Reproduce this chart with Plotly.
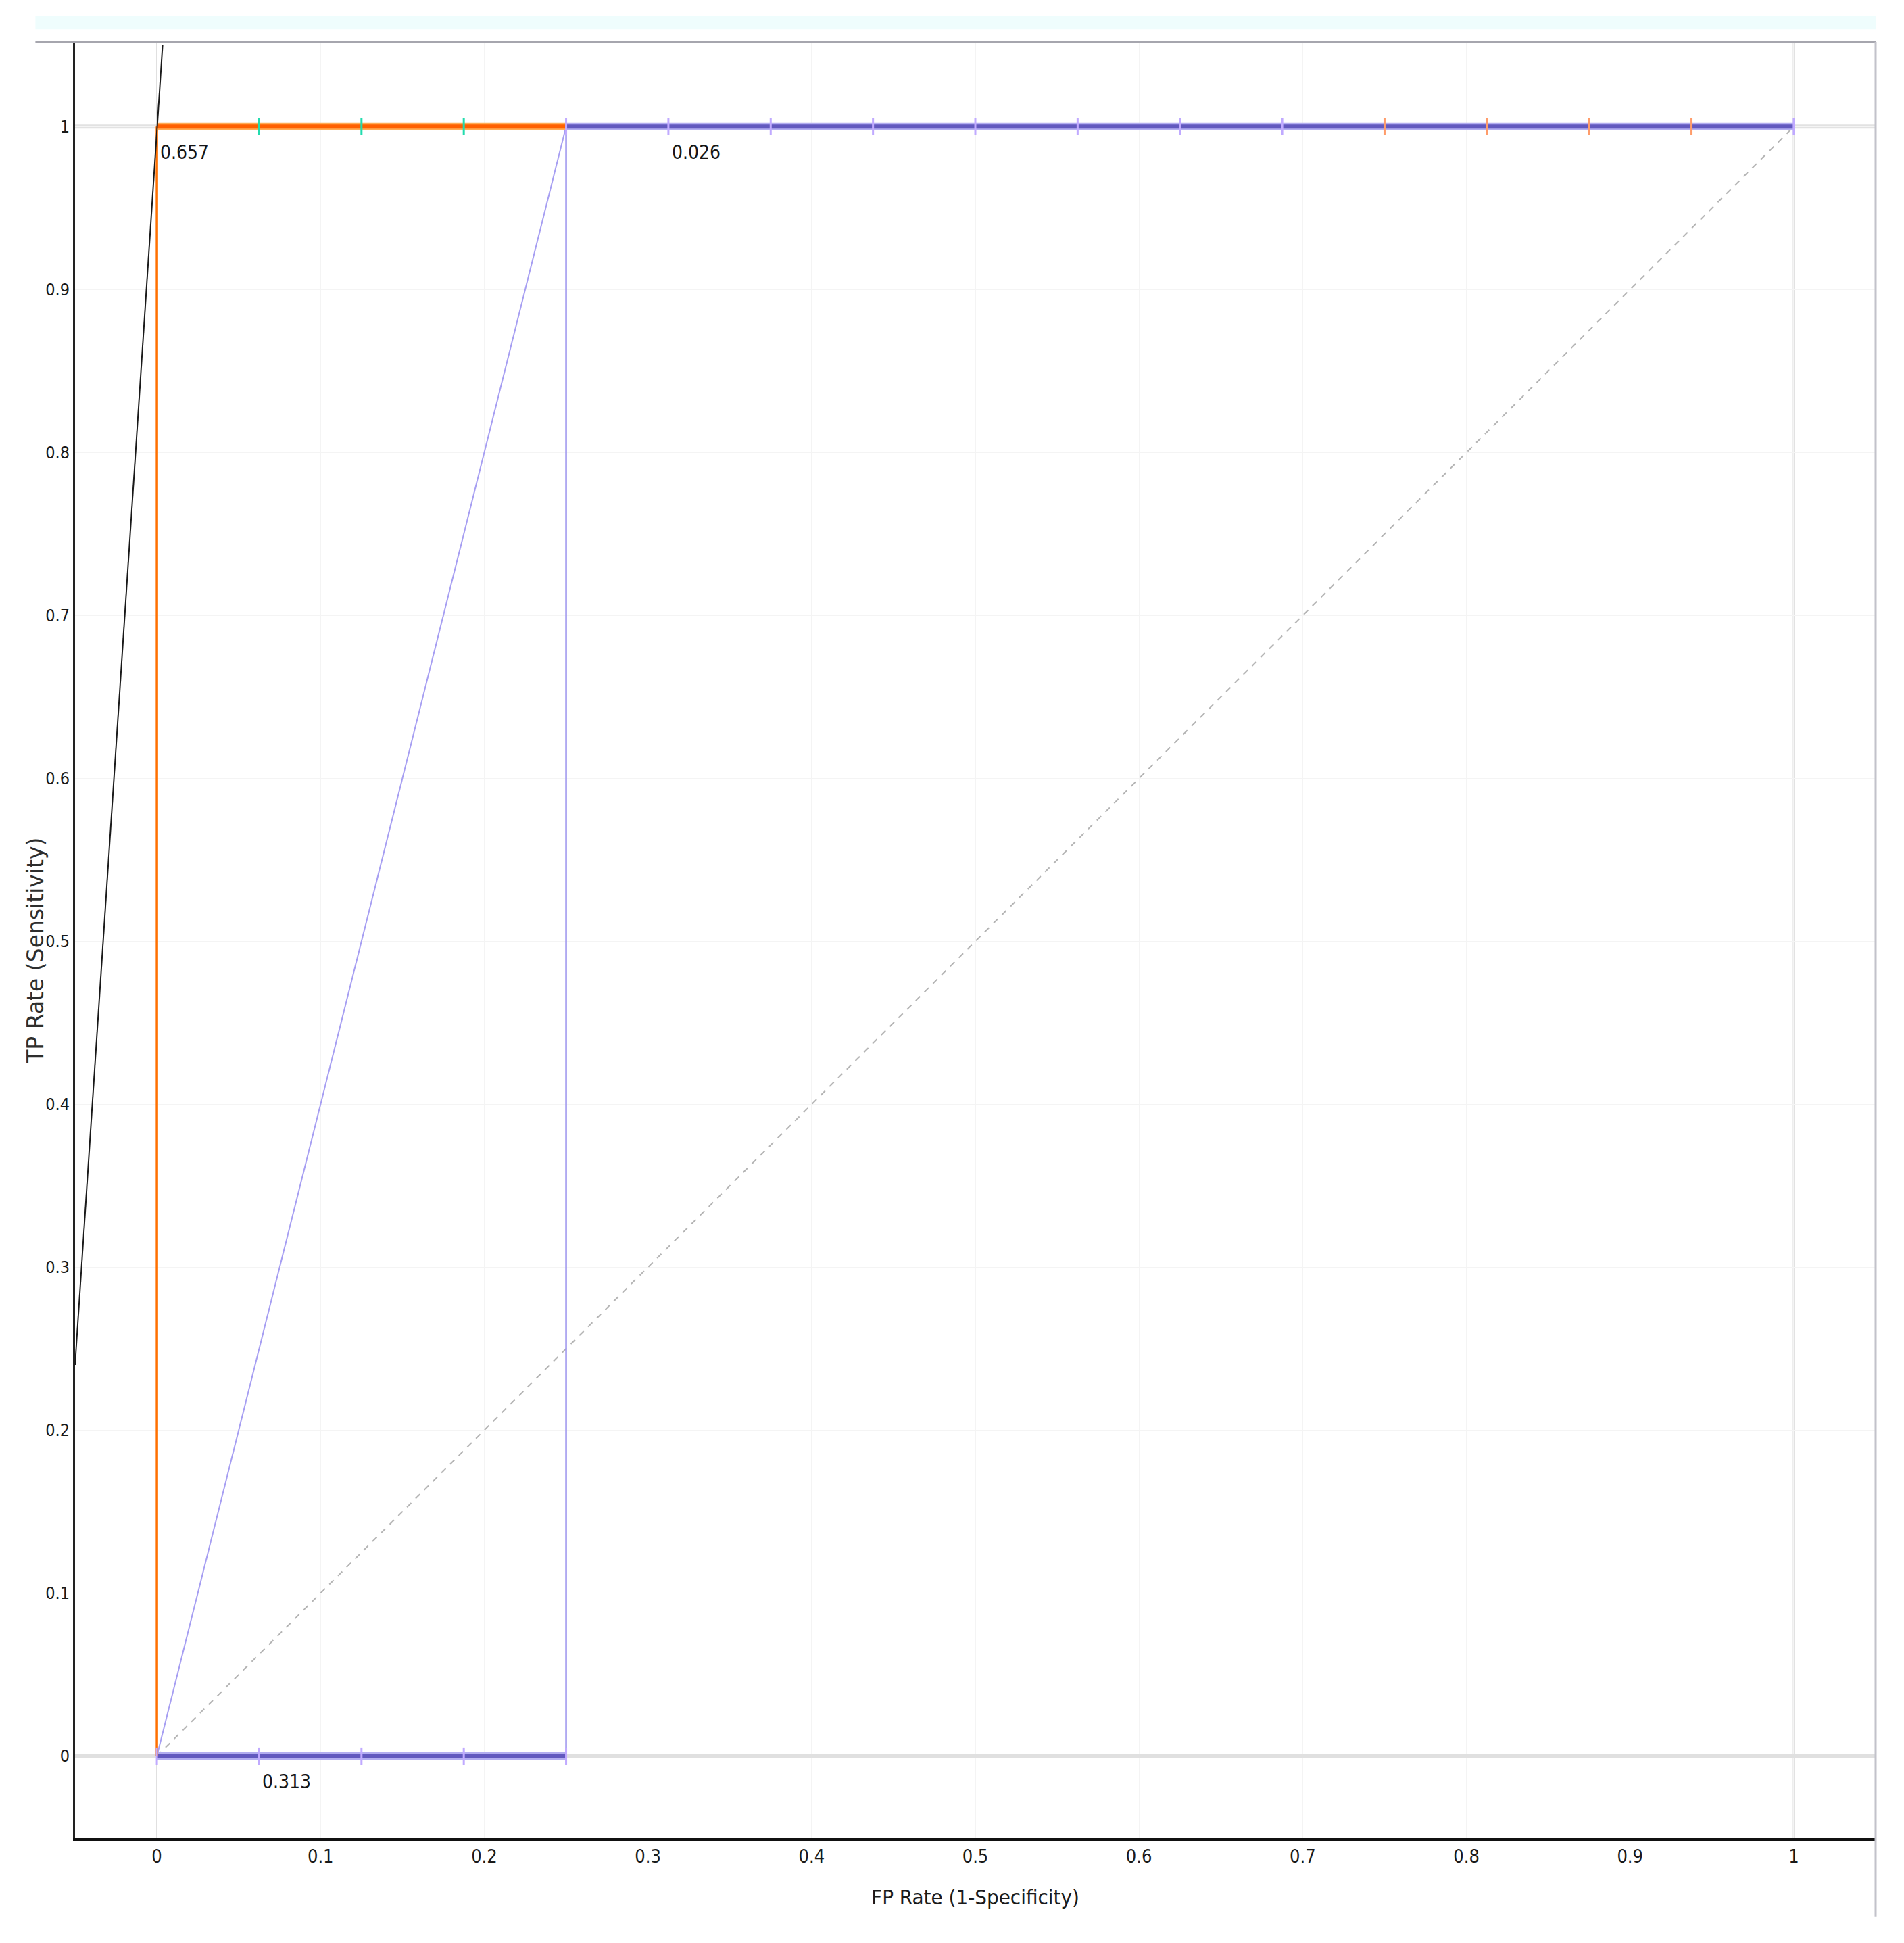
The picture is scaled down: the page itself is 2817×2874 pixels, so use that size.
import plotly.graph_objects as go

# ROC points
orange_fpr = [0, 0, 0.0625, 0.125, 0.1875, 0.25]
orange_tpr = [0, 1, 1, 1, 1, 1]

purple_fpr = [0, 0.0625, 0.125, 0.1875, 0.25, 0.25, 0.3125, 0.375, 0.4375, 0.5,
              0.5625, 0.625, 0.6875, 0.75, 0.8125, 0.875, 0.9375, 1]
purple_tpr = [0, 0, 0, 0, 0, 1, 1, 1, 1, 1, 1, 1, 1, 1, 1, 1, 1, 1]
purple_band = ["low"] * 13 + ["high"] * 4 + ["low"]

hull_fpr = [0, 0.25]
hull_tpr = [0, 1]

iso_fpr = [-0.05, 0.0035]
iso_tpr = [0.24, 1.05]

chance_fpr = [0, 1]
chance_tpr = [0, 1]

labels_x = [0, 0.3125, 0.0625]
labels_y = [1, 1, 0]
labels_text = ["0.657", "0.026", "0.313"]

TICK_FONT = "Liberation Sans Narrow, DejaVu Sans Condensed, Arial Narrow, sans-serif"


def split_segments(xs, ys):
    # horizontal pieces are drawn heavier than the rest, as in the original
    fx, fy, sx, sy = [], [], [], []
    for x0, x1, y0, y1 in zip(xs[:-1], xs[1:], ys[:-1], ys[1:]):
        if x0 == x1 and y0 == y1:
            continue
        if y0 == y1:
            fx += [x0, x1, None]
            fy += [y0, y1, None]
        else:
            sx += [x0, x1, None]
            sy += [y0, y1, None]
    return fx, fy, sx, sy


fig = go.Figure()

fig.add_hline(y=1, line=dict(color="#e2e2e2", width=6), layer="below")
fig.add_vline(x=1, line=dict(color="#e2e2e2", width=3), layer="below")

fig.add_trace(go.Scatter(x=chance_fpr, y=chance_tpr, mode="lines",
                         line=dict(color="#b4b4b4", width=2, dash="dash"),
                         hoverinfo="skip"))

fig.add_trace(go.Scatter(x=hull_fpr, y=hull_tpr, mode="lines",
                         line=dict(color="#a69ef2", width=2), hoverinfo="skip"))

pfx, pfy, psx, psy = split_segments(purple_fpr, purple_tpr)
fig.add_trace(go.Scatter(x=psx, y=psy, mode="lines",
                         line=dict(color="#9c94ee", width=2.5), hoverinfo="skip"))
fig.add_trace(go.Scatter(x=pfx, y=pfy, mode="lines",
                         line=dict(color="#b2adf0", width=11), hoverinfo="skip"))
fig.add_trace(go.Scatter(x=pfx, y=pfy, mode="lines",
                         line=dict(color="#6259bf", width=6), hoverinfo="skip"))

ofx, ofy, osx, osy = split_segments(orange_fpr, orange_tpr)
fig.add_trace(go.Scatter(x=osx, y=osy, mode="lines",
                         line=dict(color="#ff7000", width=3.5), hoverinfo="skip"))
fig.add_trace(go.Scatter(x=ofx, y=ofy, mode="lines",
                         line=dict(color="#ffac55", width=11), hoverinfo="skip"))
fig.add_trace(go.Scatter(x=ofx, y=ofy, mode="lines",
                         line=dict(color="#ff6000", width=6), hoverinfo="skip"))

band_colors = {"low": "#c0aaff", "high": "#ff9c6a"}
fig.add_trace(go.Scatter(x=purple_fpr, y=purple_tpr, mode="markers",
                         marker=dict(symbol="line-ns-open", size=18,
                                     color=[band_colors[b] for b in purple_band],
                                     line=dict(width=3)),
                         hoverinfo="skip"))
fig.add_trace(go.Scatter(x=orange_fpr[2:5], y=orange_tpr[2:5], mode="markers",
                         marker=dict(symbol="line-ns-open", size=18, color="#22dcae",
                                     line=dict(width=3)),
                         hoverinfo="skip"))

fig.add_trace(go.Scatter(x=iso_fpr, y=iso_tpr, mode="lines",
                         line=dict(color="#1a1a1a", width=2), hoverinfo="skip"))

for lx, ly, lt in zip(labels_x, labels_y, labels_text):
    fig.add_annotation(x=lx, y=ly, text=lt, showarrow=False,
                       xanchor="left", yanchor="top", xshift=3, yshift=-20,
                       font=dict(family=TICK_FONT, size=28, color="#151515"))

# y title placed by hand so it sits close to the tick labels
fig.add_annotation(x=-0.0218, y=0.494, xref="paper", yref="paper",
                   text="TP Rate (Sensitivity)", textangle=-90, showarrow=False,
                   xanchor="center", yanchor="middle",
                   font=dict(family="DejaVu Sans, Verdana, sans-serif", size=33,
                             color="#2e2e2e"))

# frame pieces outside the plot area
fig.add_shape(type="rect", xref="paper", yref="paper",
              x0=-0.022, x1=1.0, y0=1.0071, y1=1.0147,
              fillcolor="#effdfd", line=dict(width=0), layer="below")
fig.add_shape(type="line", xref="paper", yref="paper",
              x0=-0.022, x1=1.0, y0=1.0, y1=1.0,
              line=dict(color="#a6a6ae", width=4))
fig.add_shape(type="line", xref="paper", yref="paper",
              x0=1.0, x1=1.0, y0=1.0, y1=-0.044,
              line=dict(color="#c2c2ca", width=3))

fig.update_layout(
    width=2817,
    height=2874,
    margin=dict(l=103, r=50, t=54, b=164),
    paper_bgcolor="white",
    plot_bgcolor="white",
    showlegend=False,
)

fig.update_xaxes(
    range=[-0.05, 1.05],
    dtick=0.1,
    tick0=0,
    showgrid=True,
    gridcolor="#f4f4f4",
    gridwidth=1,
    zeroline=True,
    zerolinecolor="#e0e0e0",
    zerolinewidth=2,
    showline=True,
    linecolor="#111111",
    linewidth=5,
    ticks="",
    tickfont=dict(family=TICK_FONT, size=27, color="#1a1a1a"),
    title=dict(text="FP Rate (1-Specificity)", standoff=36,
               font=dict(family=TICK_FONT, size=31, color="#1a1a1a")),
)

fig.update_yaxes(
    range=[-0.05, 1.052],
    dtick=0.1,
    tick0=0,
    showgrid=True,
    gridcolor="#f4f4f4",
    gridwidth=1,
    zeroline=True,
    zerolinecolor="#e0e0e0",
    zerolinewidth=6,
    showline=True,
    linecolor="#222222",
    linewidth=3,
    ticks="",
    tickfont=dict(family=TICK_FONT, size=25, color="#1a1a1a"),
)

fig.write_html("out.html")
